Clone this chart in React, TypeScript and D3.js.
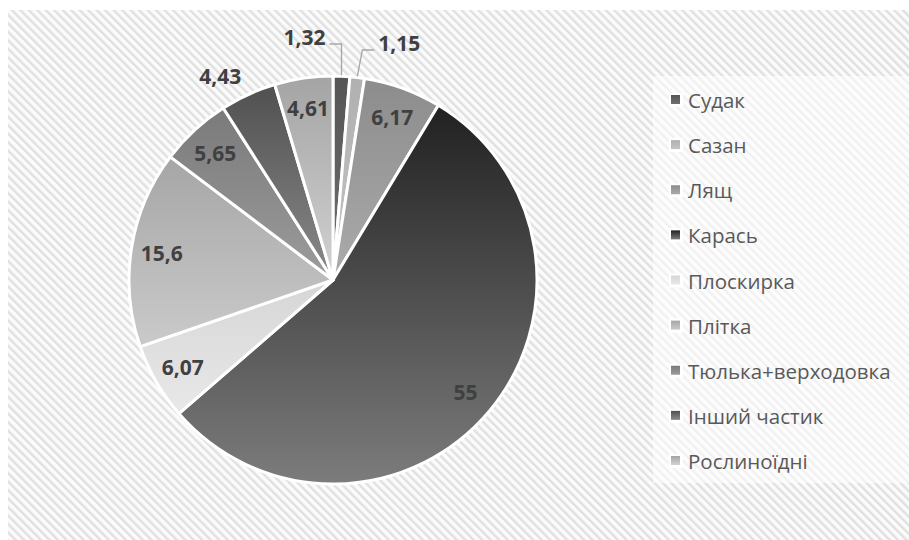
import React from "react";
import * as d3 from "d3";

const categories = [
  "Судак",
  "Сазан",
  "Лящ",
  "Карась",
  "Плоскирка",
  "Плітка",
  "Тюлька+верходовка",
  "Інший частик",
  "Рослиноїдні",
];
const values = [1.32, 1.15, 6.17, 55, 6.07, 15.6, 5.65, 4.43, 4.61];

// gradient top / bottom shade per slice
const topShades = ["#555555", "#b0b0b0", "#8c8c8c", "#212121", "#d6d6d6", "#a6a6a6", "#7a7a7a", "#505050", "#a4a4a4"];
const bottomShades = ["#707070", "#c4c4c4", "#ababab", "#7c7c7c", "#e8e8e8", "#cacaca", "#9c9c9c", "#8a8a8a", "#d2d2d2"];

const W = 909;
const H = 540;
const cx = 333;
const cy = 280;
const R = 204;

const fmt = (v: number) => String(v).replace(".", ",");

const App = () => {
  const pie = d3
    .pie<number>()
    .sort(null)
    .value((d) => d);
  const arcs = pie(values);
  const arc = d3.arc<d3.PieArcDatum<number>>().innerRadius(0).outerRadius(R);

  const legendY = d3.scalePoint<string>().domain(categories).range([100, 461]);

  const polar = (a: number, r: number) => [cx + r * Math.sin(a), cy - r * Math.cos(a)];

  return (
    <svg
      width={W}
      height={H}
      style={{ position: "absolute", left: 0, top: 0, display: "block" }}
      fontFamily="'Open Sans', sans-serif"
    >
      <defs>
        <pattern id="stripes" width="6" height="6" patternUnits="userSpaceOnUse" patternTransform="rotate(-45)">
          <rect width="6" height="6" fill="#fbfbfb" />
          <rect width="2.4" height="6" fill="#e0e0e0" />
        </pattern>
        {arcs.map((d, i) => (
          <linearGradient key={i} id={`g${i}`} x1="0" y1="0" x2="0" y2="1">
            <stop offset="0" stopColor={topShades[i]} />
            <stop offset="1" stopColor={bottomShades[i]} />
          </linearGradient>
        ))}
      </defs>
      <rect x={0} y={0} width={W} height={H} fill="#fff" />
      <rect x={8} y={10} width={W - 8} height={H - 10} fill="url(#stripes)" />
      <rect x={653} y={76} width={256} height={407} fill="#fff" opacity={0.55} />

      <g>
        {arcs.map((d, i) => (
          <path
            key={i}
            transform={`translate(${cx},${cy})`}
            d={arc(d) || ""}
            fill={`url(#g${i})`}
            stroke="#fff"
            strokeWidth={3}
            strokeLinejoin="round"
          />
        ))}
      </g>

      <g fontWeight="bold" fontSize={21} fill="#404040">
        {arcs.map((d, i) => {
          const mid = (d.startAngle + d.endAngle) / 2;
          const v = values[i];
          if (v < 2) {
            const side = i % 2 === 0 ? -1 : 1;
            const [px, py] = polar(mid, R + 1);
            const ey = cy - R - (side < 0 ? 32 : 26);
            const ex = px + (side < 0 ? 0 : 5);
            const hx = ex + side * 12;
            return (
              <g key={i}>
                <polyline
                  points={`${px},${py} ${ex},${ey} ${hx},${ey}`}
                  fill="none"
                  stroke="#a6a6a6"
                  strokeWidth={1.3}
                />
                <text
                  x={hx + side * 4}
                  y={ey - 7}
                  textAnchor={side < 0 ? "end" : "start"}
                  dominantBaseline="central"
                >
                  {fmt(v)}
                </text>
              </g>
            );
          }
          if (v < 4.5) {
            // outside end: label box just beyond the arc point
            const [px, py] = polar(mid, R);
            const sx = Math.sign(Math.sin(mid));
            const sy = -Math.sign(Math.cos(mid));
            return (
              <text key={i} x={px + sx * 28} y={py + sy * 18} textAnchor="middle" dominantBaseline="central">
                {fmt(v)}
              </text>
            );
          }
          const [x, y] = polar(mid, R * 0.85);
          return (
            <text key={i} x={x} y={y} textAnchor="middle" dominantBaseline="central">
              {fmt(v)}
            </text>
          );
        })}
      </g>

      <g fontSize={20.5} fill="#595959">
        {categories.map((c, i) => {
          const y = legendY(c) as number;
          return (
            <g key={c}>
              <rect x={669} y={y - 7} width={14} height={14} fill="#fff" />
              <rect x={671} y={y - 5} width={9} height={9} fill={`url(#g${i})`} />
              <text x={688} y={y} dominantBaseline="central">
                {c}
              </text>
            </g>
          );
        })}
      </g>
    </svg>
  );
};

export default App;
